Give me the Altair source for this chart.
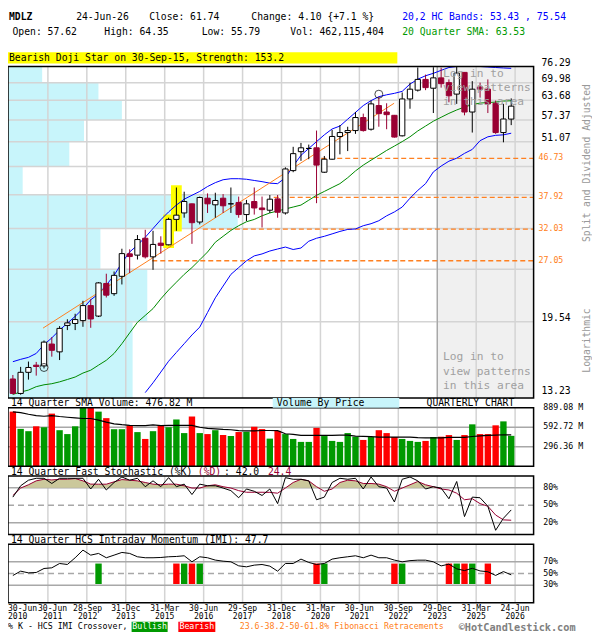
import altair as alt
import pandas as pd

# ------------------------------------------------------------------ data
QUARTERS = list(range(65))  # Q2-2010 ... Q2-2026
OPEN = [14.39, 13.32, 14.91, 15.49, 15.43, 17.34, 16.63, 19.15, 19.35, 19.65,
        21.29, 20.13, 23.96, 22.69, 24.89, 28.06, 27.87, 30.50, 27.62, 29.71,
        29.45, 33.73, 34.91, 36.65, 33.26, 37.77, 36.46, 37.77, 36.65, 36.92,
        34.61, 37.11, 35.85, 35.42, 37.63, 34.91, 43.76, 48.42, 49.26, 49.43,
        43.39, 46.51, 52.51, 53.62, 54.19, 58.10, 54.58, 61.93, 59.83, 58.79,
        52.70, 64.15, 67.24, 71.21, 67.94, 71.80, 70.00, 65.84, 73.93, 59.83,
        68.39, 67.59, 62.69, 53.62, 57.62]
HIGH = [14.70, 15.35, 15.79, 15.76, 17.67, 17.99, 19.08, 19.79, 20.38, 21.84,
        22.04, 24.12, 25.24, 25.54, 28.84, 28.75, 31.03, 31.91, 31.74, 30.82,
        34.03, 39.99, 39.10, 36.70, 38.10, 38.75, 38.89, 38.61, 39.99, 38.10,
        37.43, 39.99, 38.10, 38.42, 38.42, 44.54, 49.69, 50.74, 50.28, 54.19,
        47.32, 54.38, 55.80, 55.31, 59.83, 59.32, 63.59, 64.92, 62.69, 58.90,
        66.40, 69.95, 75.90, 73.06, 76.00, 75.80, 71.21, 76.29, 73.93, 70.55,
        70.00, 71.21, 63.59, 62.49, 64.35]
LOW = [13.25, 13.23, 14.34, 14.65, 15.22, 16.21, 15.92, 18.68, 18.68, 19.01,
       18.91, 20.03, 22.23, 22.43, 23.83, 25.32, 27.23, 27.38, 25.77, 28.10,
       29.36, 31.74, 34.03, 29.60, 32.84, 34.91, 34.03, 34.91, 34.91, 34.03,
       33.44, 34.61, 32.30, 34.91, 34.03, 34.61, 43.39, 46.10, 46.51, 36.78,
       43.23, 46.40, 47.73, 48.57, 53.25, 53.89, 54.19, 55.31, 54.58, 52.20,
       52.51, 60.89, 66.75, 67.24, 59.51, 68.15, 63.02, 62.49, 58.79, 53.62,
       64.69, 59.51, 53.25, 50.90, 55.79]
CLOSE = [13.32, 14.91, 15.30, 15.38, 17.52, 16.77, 18.85, 19.41, 19.76, 21.29,
         19.82, 24.03, 22.51, 25.02, 28.10, 27.66, 30.29, 27.62, 29.51, 29.36,
         33.73, 34.50, 37.11, 33.14, 37.91, 36.65, 37.31, 36.27, 36.65, 34.61,
         36.65, 35.85, 35.53, 37.57, 35.04, 44.15, 47.91, 49.43, 49.26, 45.07,
         46.51, 52.51, 53.62, 54.19, 58.10, 54.19, 62.49, 59.32, 59.00, 52.35,
         64.15, 67.59, 71.21, 68.15, 71.80, 69.61, 65.25, 73.66, 59.83, 67.59,
         67.59, 62.49, 53.62, 57.64, 61.74]
VOLUME = [830, 568, 533, 607, 593, 800, 548, 489, 607, 910,
          925, 830, 731, 563, 563, 622, 519, 415, 533, 617,
          593, 711, 504, 756, 504, 489, 548, 475, 460, 520,
          525, 600, 565, 420, 538, 489, 415, 370, 370, 583,
          459, 385, 370, 504, 449, 400, 444, 548, 504, 444,
          415, 385, 370, 385, 444, 449, 474, 400, 474, 637,
          489, 489, 622, 682, 462]
VOL_SMA = [825, 815, 790, 770, 760, 770, 756, 745, 735, 726,
           726, 700, 670, 645, 632, 622, 617, 617, 630, 617,
           622, 622, 622, 622, 593, 575, 568, 560, 555, 540,
           538, 538, 543, 543, 540, 494, 485, 469, 469, 469,
           469, 469, 474, 474, 459, 454, 449, 444, 444, 444,
           444, 444, 435, 430, 430, 432, 440, 438, 440, 452,
           462, 468, 474, 479, 476.82]
UPPER_BAND = [15.78, 15.98, 16.15, 16.49, 17.28, 17.92, 18.68, 19.38, 20.10, 20.95,
              21.96, 22.66, 23.75, 25.02, 26.76, 28.34, 29.40, 30.66, 32.13, 33.67,
              35.10, 36.41, 37.57, 38.36, 39.16, 40.20, 41.04, 41.68, 41.91, 41.91,
              41.79, 41.52, 41.26, 40.93, 40.82, 42.13, 44.84, 47.48, 49.26, 51.09,
              52.97, 54.66, 55.51, 57.59, 59.71, 61.93, 63.59, 64.92, 65.59, 66.11,
              66.81, 69.46, 71.30, 72.61, 73.56, 74.74, 75.89, 76.69, 77.49, 77.49,
              77.09, 76.09, 75.89, 75.70, 75.54]
LOWER_BAND_START = 17
LOWER_BAND = [13.38, 14.10, 14.93, 15.82, 16.58, 17.37, 18.20, 18.98, 20.52, 22.19,
              23.63, 25.15, 26.08, 27.04, 27.76, 28.05, 28.49, 28.80, 29.10, 28.72,
              28.95, 30.02, 30.50, 30.82, 31.22, 31.63, 31.97, 32.05, 32.61, 32.96,
              33.49, 34.38, 35.10, 36.03, 37.77, 39.37, 40.82, 43.46, 44.84, 46.02,
              46.76, 47.98, 49.00, 51.35, 52.42, 52.83, 52.97, 53.43]
SMA20 = [13.25, 13.42, 13.56, 13.81, 13.95, 14.03, 14.17, 14.35, 14.54, 14.85,
         15.08, 15.49, 15.90, 16.49, 17.37, 18.40, 19.48, 20.20, 20.95, 22.07,
         23.13, 24.12, 25.15, 26.08, 27.18, 28.34, 29.86, 30.82, 31.80, 32.61,
         33.31, 33.72, 34.38, 34.91, 35.28, 35.66, 36.03, 36.41, 37.37, 38.36,
         39.16, 39.99, 40.82, 42.13, 43.69, 45.07, 46.27, 47.48, 48.74, 49.89,
         51.09, 52.42, 54.08, 55.51, 56.97, 58.18, 59.40, 60.49, 61.45, 62.26,
         62.76, 62.93, 63.10, 63.43, 63.53]
STO_K = [63.9, 83.3, 92.8, 96.1, 96.1, 87.2, 96.1, 96.1, 96.1, 96.1,
         77.8, 94.4, 76.1, 88.9, 98.3, 92.8, 96.1, 81.7, 91.7, 81.7,
         97.2, 81.7, 86.1, 68.3, 86.1, 83.3, 83.3, 79.4, 75.0, 62.8,
         77.8, 73.9, 66.7, 77.8, 52.8, 97.2, 94.4, 94.4, 91.7, 59.4,
         63.9, 88.9, 96.1, 94.4, 96.1, 77.8, 98.3, 81.7, 79.4, 55.6,
         94.4, 98.3, 91.7, 77.8, 81.7, 79.4, 61.1, 90.6, 30.6, 63.9,
         62.8, 48.3, 7.2, 27.8, 42.0]
STO_D = [66.7, 79.4, 85.0, 91.7, 94.4, 93.3, 94.4, 94.4, 95.6, 91.7,
         86.1, 86.0, 86.0, 90.0, 93.9, 92.8, 91.7, 88.9, 86.1, 85.0,
         86.1, 86.0, 83.3, 79.4, 79.4, 83.3, 85.0, 81.7, 79.4, 75.0,
         72.2, 72.2, 72.2, 72.0, 70.6, 79.4, 88.9, 94.4, 91.7, 81.7,
         73.9, 77.8, 88.9, 92.8, 91.7, 87.2, 87.2, 86.1, 81.7, 73.9,
         79.4, 85.0, 90.6, 85.0, 81.7, 77.8, 76.1, 70.6, 59.4, 61.1,
         52.8, 48.3, 33.3, 25.0, 24.4]
IMI = [46.6, 54.0, 51.1, 51.7, 58.6, 59.7, 67.1, 65.4, 76.9, 90.0,
       81.4, 84.3, 76.9, 81.4, 86.0, 84.3, 78.6, 76.9, 76.9, 77.4,
       78.6, 79.1, 80.3, 70.0, 78.6, 76.9, 72.9, 71.1, 70.0, 63.1,
       61.4, 64.3, 65.4, 62.6, 54.0, 67.1, 67.1, 74.6, 68.9, 65.4,
       67.1, 74.6, 76.9, 78.6, 80.3, 76.9, 81.4, 76.9, 76.9, 72.9,
       70.0, 72.0, 72.8, 72.8, 70.0, 63.0, 66.0, 58.0, 55.0, 58.9,
       54.4, 53.0, 46.7, 53.3, 47.7]
IMI_BULL = [11, 22, 24, 40, 50, 57, 59]
IMI_BEAR = [21, 23, 39, 49, 56, 58, 61]
FIB_LEVELS = [46.73, 37.92, 32.03, 27.05]
FIB_FROM = [39.6, 33.5, 24.4, 17.9]
TREND_Q = [3.875, 48.96]
TREND_P = [18.88, 62.69]
PATTERN_Q = [4, 47]
PATTERN_P = [15.30, 65.80]
HL_Q = [20, 21]
HL_LO = [28.95, 31.63]
HL_HI = [34.61, 40.47]
PRICE_GRID = [19.54, 25.84, 32.15, 38.45, 44.76, 51.07, 57.37, 63.68, 69.98]
PRICE_LABELS = [76.29, 69.98, 63.68, 57.37, 51.07, 19.54, 13.23]
VBP_LO = [13.0, 19.54, 25.84, 32.15, 38.45, 44.76, 51.07, 57.37, 63.68, 69.98]
VBP_HI = [19.54, 25.84, 32.15, 38.45, 44.76, 51.07, 57.37, 63.68, 69.98, 76.29]
VBP_VOL = [569, 636, 422, 1049, 67, 280, 347, 520, 413, 156]
VOL_GRID = [296.36, 592.72]
VOL_TICKS = [889.08, 592.72, 296.36]
VOL_TICK_TEXT = ["889.08 M", "592.72 M", "296.36 M"]
STO_TICKS = [80, 50, 20]
IMI_TICKS = [70, 50, 30]
GRID_Q = [4.5, 9.5, 14.5, 19.5, 24.5, 29.5, 34.5, 39.5, 44.5, 49.5, 54.5, 59.5, 64.5]
XTICK_Q = [-0.625, 5.1, 9.6, 14.5, 19.5, 24.5, 29.5, 34.5, 39.5, 44.5, 49.5, 54.5, 59.5, 64.5]
XTICK_DATE = ["30-Jun", "30-Jun", "28-Sep", "31-Dec", "31-Mar", "30-Jun", "29-Sep",
              "31-Dec", "31-Mar", "30-Jun", "30-Sep", "29-Dec", "31-Mar", "24-Jun"]
XTICK_YEAR = ["2010", "2011", "2012", "2013", "2015", "2016", "2017",
              "2018", "2020", "2021", "2022", "2023", "2025", "2026"]

# ------------------------------------------------------------------ layout helpers
S = 584 / 600
T = 624 / 640
def px(v): return v * S
def py(v): return v * T
def fs(v): return v * S

MONO = "DejaVu Sans Mono"
CRIMSON = "#990033"
GREEN = "#009900"
RED = "#ff0000"
ORANGE = "#ff8020"
BLUE = "#0000ff"
GRID = "#d4d4d4"
PGRID = "#a8a8a8"

XD = [-0.625, 66.875]
def xsc(): return alt.Scale(domain=XD, range=[px(0), px(540)], nice=False, zero=False)
def psc(): return alt.Scale(type="log", domain=[13.0, 76.29], range=[py(400), py(60)], nice=False, clamp=True)
def vsc(): return alt.Scale(domain=[0, 889.08], range=[py(470), py(410)], nice=False, zero=False, clamp=True)
def ssc(): return alt.Scale(domain=[0, 100], range=[py(540), py(480)], nice=False, zero=False)
def isc(): return alt.Scale(domain=[0, 100], range=[py(610), py(550)], nice=False, zero=False)

def XQ(f): return alt.X(f"{f}:Q", scale=xsc(), axis=None)
def YS(f, sc): return alt.Y(f"{f}:Q", scale=sc, axis=None)

ONE = pd.DataFrame({"k": [0]})

def rect(x1, y1, x2, y2, **kw):
    return alt.Chart(ONE).mark_rect(**kw).encode(
        x=alt.value(px(x1)), x2=alt.value(px(x2)), y=alt.value(py(y1)), y2=alt.value(py(y2)))

def text(s, x, y, size=10, color="black", align="left", baseline="middle", weight="normal", angle=0):
    kw = dict(text=s, fontSize=fs(size), color=color, align=align, baseline=baseline,
              font=MONO, fontWeight=weight)
    if angle:
        kw["angle"] = angle
    return alt.Chart(ONE).mark_text(**kw).encode(x=alt.value(px(x)), y=alt.value(py(y)))

# ------------------------------------------------------------------ tables
df = pd.DataFrame(dict(i=QUARTERS, o=OPEN, h=HIGH, l=LOW, c=CLOSE, v=VOLUME, vs=VOL_SMA,
                       k=STO_K, d=STO_D, imi=IMI, ub=UPPER_BAND, sma=SMA20))
lower = pd.DataFrame(dict(i=list(range(LOWER_BAND_START, LOWER_BAND_START + len(LOWER_BAND))),
                          lb=LOWER_BAND))
vbp = pd.DataFrame(dict(lo=VBP_LO, hi=VBP_HI, vol=VBP_VOL))
gq = pd.DataFrame(dict(q=GRID_Q))
fib = pd.DataFrame(dict(lvl=FIB_LEVELS, s=FIB_FROM, t=[f"{v:.2f}" for v in FIB_LEVELS]))
trend = pd.DataFrame(dict(q=TREND_Q, p=TREND_P))
pats = pd.DataFrame(dict(q=PATTERN_Q, p=PATTERN_P))
hl = pd.DataFrame(dict(q=HL_Q, lo=HL_LO, hi=HL_HI))
imx = pd.DataFrame(dict(i=IMI_BULL + IMI_BEAR, t=["bull"] * len(IMI_BULL) + ["bear"] * len(IMI_BEAR)))
xt = pd.DataFrame(dict(q=XTICK_Q, d=XTICK_DATE, y=XTICK_YEAR))

down = "datum.c < datum.o"
L = []

# ---------------- price panel
L.append(rect(441, 60, 540, 400, color="#f0f0f0"))
L.append(alt.Chart(vbp).transform_calculate(z="0").mark_rect(color="#c8f5fb").encode(
    x=alt.X("z:Q", scale=alt.Scale(domain=[0, 2400], range=[px(0), px(540)], nice=False, zero=False), axis=None),
    x2="vol:Q", y=YS("lo", psc()), y2="hi:Q"))
L.append(alt.Chart(pd.DataFrame(dict(p=PRICE_GRID))).mark_rule(color=GRID, strokeWidth=1.5).encode(
    y=YS("p", psc()), x=alt.value(px(0)), x2=alt.value(px(540))))
for top, bot in [(60, 400), (410, 470), (480, 540), (550, 610)]:
    L.append(alt.Chart(gq).mark_rule(color=GRID, strokeWidth=1.5).encode(
        x=XQ("q"), y=alt.value(py(top)), y2=alt.value(py(bot))))
L.append(alt.Chart(ONE).mark_rule(color="#999999", strokeWidth=1).encode(
    x=alt.value(px(441)), y=alt.value(py(60)), y2=alt.value(py(400))))
L.append(alt.Chart(hl).transform_calculate(a="datum.q - 0.69", b="datum.q + 0.69").mark_rect(color="#ffff00").encode(
    x=XQ("a"), x2="b:Q", y=YS("lo", psc()), y2="hi:Q"))
L.append(alt.Chart(fib).mark_rule(color=ORANGE, strokeWidth=1.3, strokeDash=[5, 3]).encode(
    x=XQ("s"), x2=alt.value(px(540)), y=YS("lvl", psc())))
L.append(alt.Chart(df).mark_line(color=BLUE, strokeWidth=1).encode(x=XQ("i"), y=YS("ub", psc())))
L.append(alt.Chart(lower).mark_line(color=BLUE, strokeWidth=1).encode(x=XQ("i"), y=YS("lb", psc())))
L.append(alt.Chart(df).mark_line(color="#008a00", strokeWidth=1).encode(x=XQ("i"), y=YS("sma", psc())))
L.append(alt.Chart(trend).mark_line(color=ORANGE, strokeWidth=1).encode(x=XQ("q"), y=YS("p", psc())))
L.append(alt.Chart(df).mark_rule(strokeWidth=1).encode(
    x=XQ("i"), y=YS("l", psc()), y2="h:Q",
    color=alt.condition(down, alt.value(CRIMSON), alt.value("black"))))
L.append(alt.Chart(df).transform_calculate(a="datum.i - 0.34", b="datum.i + 0.34").mark_rect(strokeWidth=1).encode(
    x=XQ("a"), x2="b:Q", y=YS("o", psc()), y2="c:Q",
    fill=alt.condition(down, alt.value(CRIMSON), alt.value("white")),
    stroke=alt.condition(down, alt.value(CRIMSON), alt.value("black"))))
L.append(alt.Chart(pats).mark_point(shape="circle", filled=False, color="black", size=64, strokeWidth=1).encode(
    x=XQ("q"), y=YS("p", psc())))
for yy, line in [(67.5, "Log in to"), (82, "view patterns"), (96.5, "in this area"),
                 (358, "Log in to"), (373, "view patterns"), (388, "in this area")]:
    L.append(text(line, 447, yy, size=11.5, color="#a0a0a0"))
L.append(rect(0, 60, 540, 400, fill="transparent", stroke="black", strokeWidth=1.5))
L.append(alt.Chart(pd.DataFrame(dict(p=PRICE_LABELS))).mark_text(
    align="left", baseline="bottom", font=MONO, fontSize=fs(10), color="black", dy=1).encode(
    y=YS("p", psc()), x=alt.value(px(548)), text=alt.Text("p:Q", format=".2f")))
L.append(alt.Chart(fib).mark_text(align="left", baseline="middle", font=MONO, fontSize=fs(8.5), color=ORANGE).encode(
    y=YS("lvl", psc()), x=alt.value(px(545)), text="t:N"))

# ---------------- volume panel
L.append(alt.Chart(pd.DataFrame(dict(g=VOL_GRID))).mark_rule(color=PGRID, strokeWidth=1.5).encode(
    y=YS("g", vsc()), x=alt.value(px(0)), x2=alt.value(px(540))))
L.append(alt.Chart(df).transform_calculate(a="datum.i - 0.41", b="datum.i + 0.41", z="0").mark_rect().encode(
    x=XQ("a"), x2="b:Q", y=YS("v", vsc()), y2="z:Q",
    color=alt.condition(down, alt.value(RED), alt.value(GREEN))))
L.append(alt.Chart(df).mark_line(color="black", strokeWidth=1.2).encode(x=XQ("i"), y=YS("vs", vsc())))
L.append(rect(0, 410, 540, 470, fill="transparent", stroke="black", strokeWidth=1.5))
L.append(alt.Chart(pd.DataFrame(dict(g=VOL_TICKS, t=VOL_TICK_TEXT))).mark_text(
    align="left", baseline="middle", font=MONO, fontSize=fs(8.5), color="black").encode(
    y=YS("g", vsc()), x=alt.value(px(550)), text="t:N"))

# ---------------- stochastic panel
L.append(alt.Chart(pd.DataFrame(dict(g=[80, 20]))).mark_rule(color=PGRID, strokeWidth=1.5).encode(
    y=YS("g", ssc()), x=alt.value(px(0)), x2=alt.value(px(540))))
L.append(alt.Chart(pd.DataFrame(dict(g=[50]))).mark_rule(color=PGRID, strokeWidth=1.5, strokeDash=[6, 4]).encode(
    y=YS("g", ssc()), x=alt.value(px(0)), x2=alt.value(px(540))))
L.append(alt.Chart(df).transform_calculate(top="max(datum.d, 80)", base="80").mark_area(color="#cbc89b", opacity=1).encode(
    x=XQ("i"), y=YS("top", ssc()), y2="base:Q"))
L.append(alt.Chart(df).mark_line(color=CRIMSON, strokeWidth=1).encode(x=XQ("i"), y=YS("d", ssc())))
L.append(alt.Chart(df).mark_line(color="black", strokeWidth=1).encode(x=XQ("i"), y=YS("k", ssc())))
L.append(rect(0, 480, 540, 540, fill="transparent", stroke="black", strokeWidth=1.5))
L.append(alt.Chart(pd.DataFrame(dict(g=STO_TICKS))).mark_text(
    align="left", baseline="middle", font=MONO, fontSize=fs(8.5), color="black").encode(
    y=YS("g", ssc()), x=alt.value(px(550)), text=alt.Text("g:Q", format="d")))
L.append(alt.Chart(pd.DataFrame(dict(g=STO_TICKS))).mark_text(
    align="left", baseline="middle", font=MONO, fontSize=fs(8.5), color="black", text="%").encode(
    y=YS("g", ssc()), x=alt.value(px(560))))

# ---------------- IMI panel
L.append(alt.Chart(pd.DataFrame(dict(g=[70, 30]))).mark_rule(color=PGRID, strokeWidth=1.5).encode(
    y=YS("g", isc()), x=alt.value(px(0)), x2=alt.value(px(540))))
L.append(alt.Chart(pd.DataFrame(dict(g=[50]))).mark_rule(color=PGRID, strokeWidth=1.5, strokeDash=[6, 4]).encode(
    y=YS("g", isc()), x=alt.value(px(0)), x2=alt.value(px(540))))
L.append(alt.Chart(imx).transform_calculate(a="datum.i - 0.41", b="datum.i + 0.41", lo="32", hi="67").mark_rect().encode(
    x=XQ("a"), x2="b:Q", y=YS("lo", isc()), y2="hi:Q",
    color=alt.condition("datum.t == 'bull'", alt.value(GREEN), alt.value(RED))))
L.append(alt.Chart(df).mark_line(color="black", strokeWidth=1).encode(x=XQ("i"), y=YS("imi", isc())))
L.append(rect(0, 550, 540, 610, fill="transparent", stroke="black", strokeWidth=1.5))
L.append(alt.Chart(pd.DataFrame(dict(g=IMI_TICKS))).mark_text(
    align="left", baseline="middle", font=MONO, fontSize=fs(8.5), color="black").encode(
    y=YS("g", isc()), x=alt.value(px(550)), text=alt.Text("g:Q", format="d")))
L.append(alt.Chart(pd.DataFrame(dict(g=IMI_TICKS))).mark_text(
    align="left", baseline="middle", font=MONO, fontSize=fs(8.5), color="black", text="%").encode(
    y=YS("g", isc()), x=alt.value(px(560))))

# ---------------- x axis labels (two rows); first label hugs the left edge
for flt, al in [("datum.q < 0", "left"), ("datum.q >= 0", "center")]:
    for fld, yy in [("d", 616), ("y", 624.5)]:
        L.append(alt.Chart(xt).transform_filter(flt).mark_text(
            align=al, baseline="middle", font=MONO, fontSize=fs(8.3), color="black").encode(
            x=XQ("q"), y=alt.value(py(yy)), text=f"{fld}:N"))

# ---------------- header
L.append(text("MDLZ", 1, 9.5, weight="bold"))
L.append(text("24-Jun-26", 70, 9.5))
L.append(text("Close: 61.74", 145, 9.5))
L.append(text("Change: 4.10 {+7.1 %}", 250, 9.5))
L.append(text("20,2 HC Bands: 53.43 , 75.54", 405, 9.5, color=BLUE))
L.append(text("Open: 57.62", 4.6, 25))
L.append(text("High: 64.35", 99, 25))
L.append(text("Low: 55.79", 199, 25))
L.append(text("Vol: 462,115,404", 290, 25))
L.append(text("20 Quarter SMA: 63.53", 405, 25, color=GREEN))
L.append(rect(0, 45.5, 400, 57, color="#ffff00"))
L.append(text("Bearish Doji Star on 30-Sep-15, Strength: 153.2", 1, 51.5))
L.append(text("Split and Dividend Adjusted", 595, 159, color="#999999", align="center", angle=270))
L.append(text("Logarithmic", 595, 341, color="#999999", align="center", angle=270))

# ---------------- panel headers
L.append(text("14 Quarter SMA Volume: 476.82 M", 3, 405))
L.append(rect(272, 400, 402, 410, color="#c8f5fb"))
L.append(text("Volume By Price", 276, 405))
L.append(text("QUARTERLY CHART", 430, 405))
L.append(text("14 Quarter Fast Stochastic (%K)", 3, 476))
L.append(text("(%D)", 195, 476, color=CRIMSON))
L.append(text(": 42.0", 222, 476))
L.append(text("24.4", 267, 476, color=CRIMSON))
L.append(text("14 Quarter HCS Intraday Momentum (IMI): 47.7", 3, 545.5))

# ---------------- footer
L.append(text("% K - HCS IMI Crossover,", 0, 635, size=8.5))
L.append(rect(127, 629.5, 164, 640, color=GREEN))
L.append(text("Bullish", 145.5, 635, size=8.5, color="white", align="center"))
L.append(rect(175, 629.5, 213, 640, color=RED))
L.append(text("Bearish", 194, 635, size=8.5, color="white", align="center"))
L.append(text("23.6-38.2-50-61.8% Fibonacci Retracements", 238, 635, size=8.5, color=ORANGE))
L.append(text("\u00a9HotCandlestick.com", 463, 635.5, size=10.5, color="#808080", weight="bold"))

chart = alt.layer(*L).resolve_scale(x="independent", y="independent").properties(
    width=px(600), height=py(640), padding=0,
    autosize=alt.AutoSizeParams(type="none")).configure_view(strokeWidth=0)

chart.save("out.html", embed_options={"renderer": "svg", "actions": False})
